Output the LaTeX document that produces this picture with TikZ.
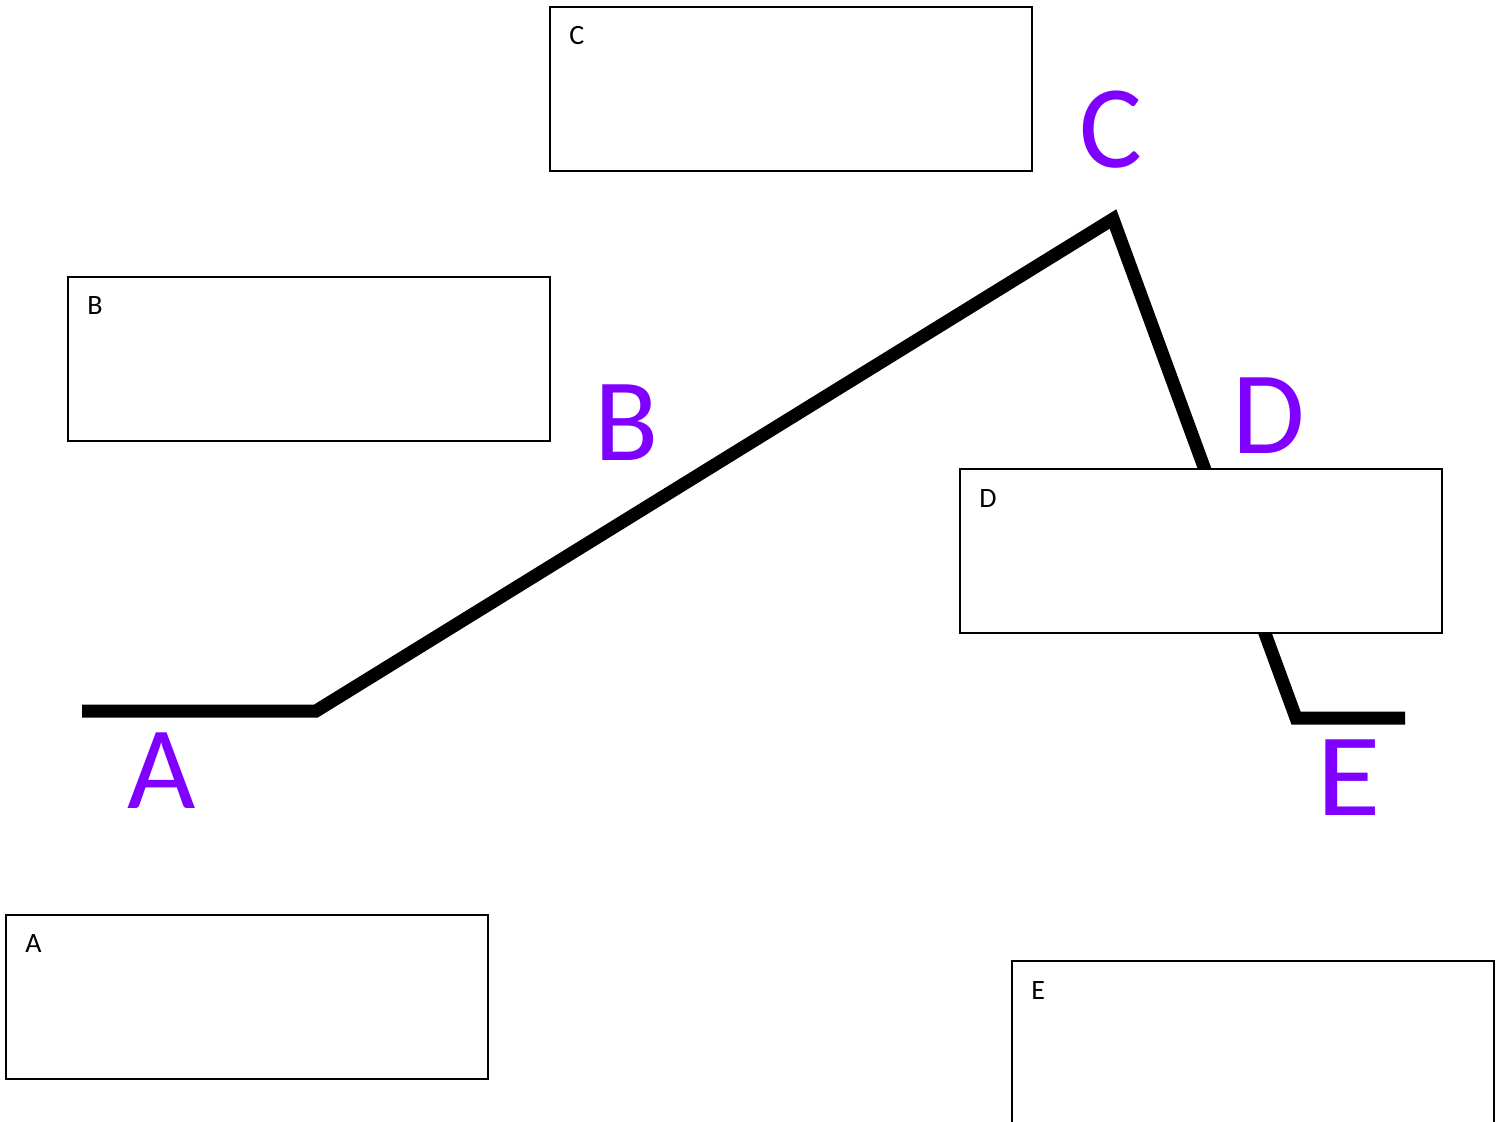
\documentclass[tikz,border=0pt]{standalone}
\usepackage{fontspec}
\setmainfont{Carlito}
\definecolor{lblpurple}{HTML}{8000FF}
\tikzset{
  infobox/.style={draw=black, line width=1pt, fill=white, rectangle, anchor=north west,
    minimum width=241pt, minimum height=82pt, inner sep=0pt},
  boxtext/.style={anchor=base west, inner sep=0pt, font=\fontsize{14}{14}\selectfont},
  bigletter/.style={anchor=base west, inner sep=0pt, text=lblpurple, font=\fontsize{59}{59}\selectfont},
  profile/.style={line width=6.5pt, black, line cap=butt, line join=miter}
}
\begin{document}
\begin{tikzpicture}[x=0.5pt, y=-0.5pt]
\useasboundingbox (0,0) rectangle (1502,1122);
\clip (0,0) rectangle (1502,1122);
% profile line (drawn first, box D covers part of it)
\coordinate (p0) at (82,711);
\coordinate (p1) at (316,711);
\coordinate (p2) at (1113,219);
\coordinate (p3) at (1296,718);
\coordinate (p4) at (1405,718);
\draw[profile] (p0) -- (p1) -- (p2) -- (p3) -- (p4);
% boxes
\node[infobox] (boxC) at (549,6) {};
\node[infobox] (boxB) at (67,276) {};
\node[infobox] (boxD) at (959,468) {};
\node[infobox] (boxA) at (5,914) {};
\node[infobox, minimum height=90pt] (boxE) at (1011,960) {};
% box texts
\node[boxtext] (tC) at (569,45) {C};
\node[boxtext] (tB) at (87,315) {B};
\node[boxtext] (tD) at (979,507) {D};
\node[boxtext] (tA) at (25,952) {A};
\node[boxtext] (tE) at (1031,999) {E};
% purple letters
\node[bigletter] (lA) at (127,808) {A};
\node[bigletter] (lB) at (594,460) {B};
\node[bigletter] (lC) at (1079,168) {C};
\node[bigletter] (lD) at (1232,453) {D};
\node[bigletter, xscale=1.12] (lE) at (1316,815) {E};
\end{tikzpicture}
\end{document}
